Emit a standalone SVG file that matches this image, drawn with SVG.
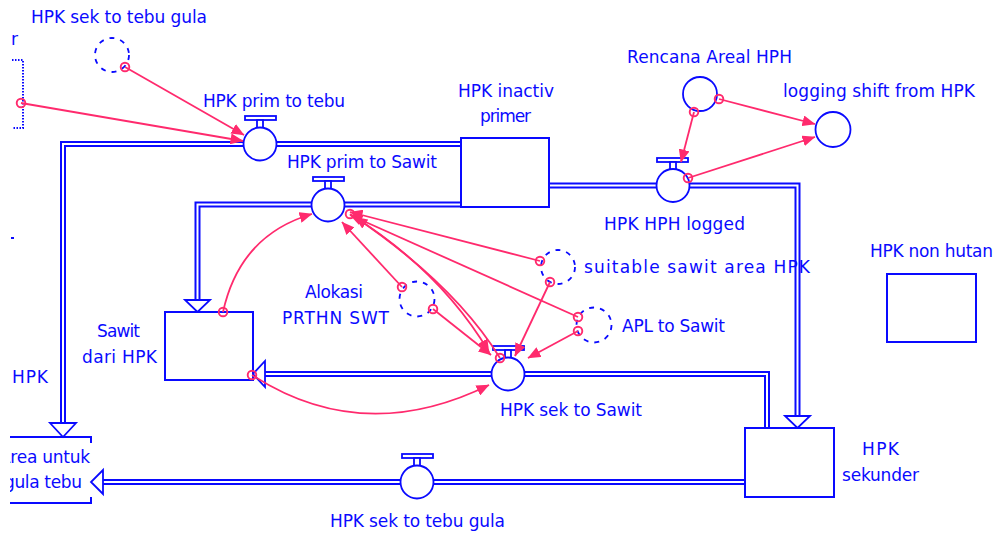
<svg xmlns="http://www.w3.org/2000/svg" width="994" height="536" viewBox="0 0 994 536">
<defs>
<style>
text{font-family:"DejaVu Sans","Liberation Sans",sans-serif;font-size:17px;fill:#0a0aff}
.stock{fill:#fff;stroke:#0a0aff;stroke-width:2}
.po{fill:none;stroke:#0a0aff;stroke-width:6;stroke-linejoin:miter}
.pi{fill:none;stroke:#fff;stroke-width:2;stroke-linejoin:miter}
.arr{fill:#fff;stroke:#0a0aff;stroke-width:1.8}
.vc{fill:#fff;stroke:#0a0aff;stroke-width:1.8}
.aux{fill:#fff;stroke:#0a0aff;stroke-width:1.8}
.ghost{fill:none;stroke:#0a0aff;stroke-width:1.8;stroke-dasharray:5 6}
.lk{fill:none;stroke:#ff2a6d;stroke-width:1.8;marker-start:url(#o);marker-end:url(#a)}
</style>
<marker id="a" markerUnits="userSpaceOnUse" viewBox="0 0 13 11" markerWidth="13" markerHeight="11" refX="12.5" refY="5.5" orient="auto"><path d="M0,0 L13,5.5 L0,11 z" fill="#ff2a6d"/></marker>
<marker id="o" markerUnits="userSpaceOnUse" viewBox="0 0 12 12" markerWidth="12" markerHeight="12" refX="6" refY="6"><circle cx="6" cy="6" r="4.3" fill="none" stroke="#ff2a6d" stroke-width="1.9"/></marker>
<clipPath id="lc"><rect x="10" y="0" width="200" height="536"/></clipPath>
</defs>
<rect width="994" height="536" fill="#fff"/>

<g id="flows">
<path class="po" d="M461,144 H63 V423"/><path class="pi" d="M461,144 H63 V423"/>
<polygon class="arr" points="50,423 76,423 63,437"/>
<path class="po" d="M461,204.5 H197.5 V300"/><path class="pi" d="M461,204.5 H197.5 V300"/>
<polygon class="arr" points="185,300 210,300 197.5,312"/>
<path class="po" d="M549,185.5 H797.5 V416"/><path class="pi" d="M549,185.5 H797.5 V416"/>
<polygon class="arr" points="785,416 810,416 797.5,428"/>
<path class="po" d="M767,428 V374 H265"/><path class="pi" d="M767,428 V374 H265"/>
<polygon class="arr" points="265,361 265,387 253,374"/>
<path class="po" d="M745,482 H103"/><path class="pi" d="M745,482 H103"/>
<polygon class="arr" points="103,470 103,494 91,482"/>
</g>

<g id="HPK_inactiv_primer">
<rect class="stock" x="461" y="138" width="88" height="69"/>
<text x="458" y="97" textLength="96">HPK inactiv</text>
<text x="480" y="122" textLength="51">primer</text>
</g>
<g id="Sawit_dari_HPK">
<rect class="stock" x="165" y="312" width="88" height="68"/>
<text x="97" y="337" textLength="43">Sawit</text>
<text x="82" y="363" textLength="75">dari HPK</text>
</g>
<g id="HPK_sekunder">
<rect class="stock" x="745" y="428" width="89" height="69"/>
<text x="862" y="455" textLength="37">HPK</text>
<text x="842" y="481" textLength="77">sekunder</text>
</g>
<g id="HPK_non_hutan">
<rect class="stock" x="887" y="274" width="89" height="68"/>
<text x="870" y="257" textLength="123">HPK non hutan</text>
</g>
<g id="Area_untuk_gula_tebu" clip-path="url(#lc)">
<path fill="none" stroke="#0a0aff" stroke-width="2" d="M0,437 H91 V443 M91,497 V503 H0"/>
<text x="-1" y="463" textLength="91">Area untuk</text>
<text x="4" y="488" textLength="78">gula tebu</text>
</g>
<g id="left_stock">
<text x="11" y="45">r</text>
<path fill="none" stroke="#0a0aff" stroke-width="2" stroke-dasharray="1.5 1.5" d="M12,60 H23 V128 H12"/>
<rect x="11" y="237" width="3" height="2" fill="#0a0aff"/>
<text x="12" y="383" textLength="36">HPK</text>
</g>

<g id="HPK_prim_to_tebu">
<rect class="vc" x="245" y="116" width="31" height="4"/><rect class="vc" x="257" y="120" width="6" height="8"/>
<circle class="vc" cx="260" cy="144" r="16.5"/>
<text x="203" y="107" textLength="142">HPK prim to tebu</text>
</g>
<g id="HPK_prim_to_Sawit">
<rect class="vc" x="313" y="177" width="31" height="4"/><rect class="vc" x="325" y="181" width="6" height="8"/>
<circle class="vc" cx="328" cy="205" r="16.5"/>
<text x="287" y="168" textLength="150">HPK prim to Sawit</text>
</g>
<g id="HPK_HPH_logged">
<rect class="vc" x="657" y="158" width="31" height="4"/><rect class="vc" x="670" y="162" width="6" height="8"/>
<circle class="vc" cx="673" cy="185.5" r="16.5"/>
<text x="604" y="230" textLength="141">HPK HPH logged</text>
</g>
<g id="HPK_sek_to_Sawit">
<rect class="vc" x="493" y="346" width="31" height="4"/><rect class="vc" x="505" y="350" width="6" height="8"/>
<circle class="vc" cx="508" cy="374" r="16.5"/>
<text x="500" y="416" textLength="142">HPK sek to Sawit</text>
</g>
<g id="HPK_sek_to_tebu_gula">
<rect class="vc" x="402" y="454" width="31" height="4"/><rect class="vc" x="414" y="458" width="6" height="8"/>
<circle class="vc" cx="417" cy="482" r="16.5"/>
<text x="330" y="527" textLength="175">HPK sek to tebu gula</text>
</g>

<g id="Rencana_Areal_HPH">
<circle class="aux" cx="700" cy="94" r="17"/>
<text x="627" y="63" textLength="165">Rencana Areal HPH</text>
</g>
<g id="logging_shift_from_HPK">
<circle class="aux" cx="833" cy="129.5" r="17.5"/>
<text x="783" y="97" textLength="192">logging shift from HPK</text>
</g>
<g id="ghost_HPK_sek_to_tebu_gula">
<circle class="ghost" cx="112" cy="55" r="17"/>
<text x="31" y="23" textLength="176">HPK sek to tebu gula</text>
</g>
<g id="Alokasi_PRTHN_SWT">
<circle class="ghost" cx="417" cy="299" r="17.5"/>
<text x="305" y="298" textLength="58">Alokasi</text>
<text x="282" y="324" textLength="107">PRTHN SWT</text>
</g>
<g id="suitable_sawit_area_HPK">
<circle class="ghost" cx="558" cy="267" r="17"/>
<text x="584" y="273" textLength="226">suitable sawit area HPK</text>
</g>
<g id="APL_to_Sawit">
<circle class="ghost" cx="594" cy="325" r="17.5"/>
<text x="622" y="332" textLength="103">APL to Sawit</text>
</g>

<g id="connectors">
<path class="lk" d="M125,67 L244,135"/>
<path class="lk" d="M21,103 L243,141"/>
<path class="lk" d="M694,112 L681,162"/>
<path class="lk" d="M719,99 L815,124"/>
<path class="lk" d="M688,178 L815,137"/>
<path class="lk" d="M223,312 Q240,235 312,214"/>
<path class="lk" d="M402,287 L342,222"/>
<path class="lk" d="M433,309 L491,355"/>
<path class="lk" d="M540,261 L350,212"/>
<path class="lk" d="M578,317 L350,215"/>
<path class="lk" d="M500,358 Q455,285 355,217"/>
<path class="lk" d="M350,214 Q440,270 489,352"/>
<path class="lk" d="M550,282 L515,356"/>
<path class="lk" d="M578,331 L528,358"/>
<path class="lk" d="M252,375 Q363,447 489,385"/>
</g>
</svg>
